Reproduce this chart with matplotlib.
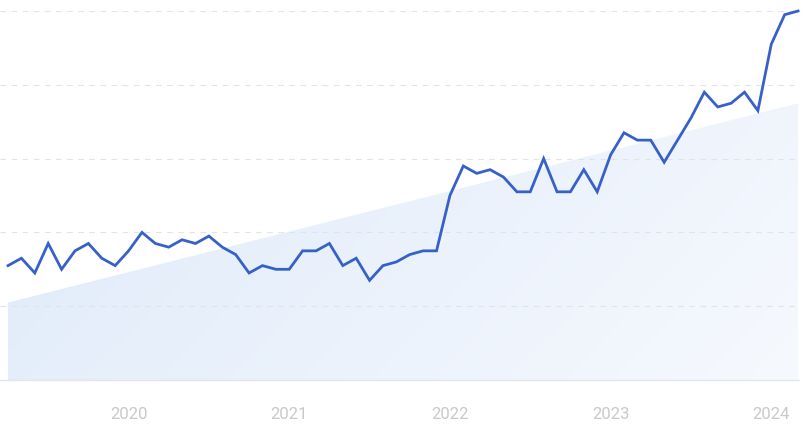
import numpy as np
import matplotlib
matplotlib.use("Agg")
import matplotlib.pyplot as plt
from matplotlib.colors import LinearSegmentedColormap

# monthly values, Apr 2019 .. Mar 2024
values = [31, 33, 29, 37, 30, 35, 37, 33, 31, 35, 40, 37,
          36, 38, 37, 39, 36, 34, 29, 31, 30, 30, 35, 35,
          37, 31, 33, 27, 31, 32, 34, 35, 35, 50, 58, 56,
          57, 55, 51, 51, 60, 51, 51, 57, 51, 61, 67, 65,
          65, 59, 65, 71, 78, 74, 75, 78, 73, 91, 99, 100]
year_labels = ["2020", "2021", "2022", "2023", "2024"]
year_idx = [9, 21, 33, 45, 57]   # January of each year
trend_ends = [21, 75]            # trend area at first / last month

x = np.arange(len(values))
trend = np.linspace(trend_ends[0], trend_ends[1], len(values))

fig = plt.figure(figsize=(8.04, 4.27), dpi=100)
ax = fig.add_axes([0, 46 / 427, 799 / 804, (381 - 12) / 427])
ax.set_xlim(-0.6, 59.07)
ax.set_ylim(0, 100)

# gradient trend area
poly = ax.fill_between(x, 0, trend, color="none", lw=0)
cmap = LinearSegmentedColormap.from_list("g", ["#dde9f9", "#f6f9fe"])
gx, gy = np.meshgrid(np.linspace(0, 1, 200), np.linspace(0, 1, 100))
grad = gx * 0.8 + gy * 0.35
im = ax.imshow(grad, extent=(0, 59, 0, 100), origin="upper", cmap=cmap,
               aspect="auto", zorder=1, interpolation="bilinear")
im.set_clip_path(poly.get_paths()[0], transform=ax.transData)
ax.set_xlim(-0.6, 59.07)
ax.set_ylim(0, 100)

for yv in [20, 40, 60, 80, 100]:
    ax.axhline(yv, color="#dfe4ea", lw=0.8, ls=(0, (5, 5)), zorder=2)

ax.plot(x, values, color="#3761c9", lw=2.0, zorder=3, clip_on=False,
        solid_joinstyle="miter")

for s in ["top", "left", "right"]:
    ax.spines[s].set_visible(False)
ax.spines["bottom"].set_color("#e2e6eb")
ax.spines["bottom"].set_linewidth(1.0)
ax.set_yticks([])
ax.set_xticks(year_idx)
ax.set_xticklabels(year_labels, fontfamily="Roboto", fontsize=12, color="#c9c9c9")
ax.tick_params(axis="x", length=0, pad=19)

fig.savefig("out.png", dpi=100)
